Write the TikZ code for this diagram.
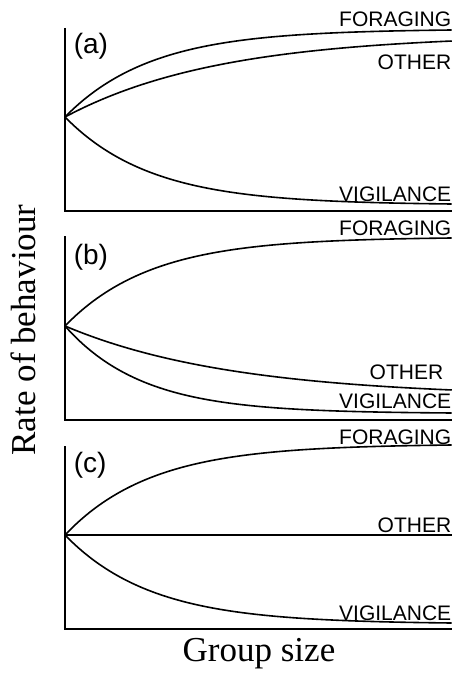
\documentclass[tikz,border=0pt]{standalone}
\usepackage{fontspec}
\setmainfont{Liberation Serif}
\newfontfamily\labelfont{Liberation Sans}

\tikzset{every picture/.style={line width=1.6pt}}
\tikzset{
  curvelabel/.style={anchor=base east, inner sep=0pt, font=\labelfont\fontsize{21}{21}\selectfont},
  panellabel/.style={anchor=base west, inner sep=0pt, font=\labelfont\fontsize{28}{28}\selectfont},
  axistitle/.style={inner sep=0pt, font=\fontsize{35}{35}\selectfont}
}
% saturating curve: start, change, rate
\newcommand{\satcurve}[4]{\draw [domain=0:1, samples=80, variable=\t, smooth] plot ({65+387*\t}, {#1+#2*(1-exp(-#3*\t))/(1-exp(-#3))}) #4;}

\begin{document}
\begin{tikzpicture}[x=1pt,y=1pt,yscale=-1,xscale=1]
\useasboundingbox (0,0) rectangle (457,677);

%Axes (a)
\coordinate (atop) at (65,28);
\coordinate (aorig) at (65,211);
\coordinate (aend) at (452,211);
\draw (atop) -- (aorig) -- (aend);
%Curves (a)
\satcurve{117}{-87}{4.5}{}
\satcurve{117}{-76}{2.5}{}
\satcurve{117}{87}{4.5}{}

%Axes (b)
\coordinate (btop) at (65,236);
\coordinate (borig) at (65,420);
\coordinate (bend) at (452,420);
\draw (btop) -- (borig) -- (bend);
%Curves (b)
\satcurve{326}{-88}{4.5}{}
\satcurve{326}{64}{2.3}{}
\satcurve{326}{87}{5}{}

%Axes (c)
\coordinate (ctop) at (65,446);
\coordinate (corig) at (65,629);
\coordinate (cend) at (452,629);
\draw (ctop) -- (corig) -- (cend);
%Curves (c)
\satcurve{535}{-90}{4.5}{}
\draw (65,535) -- (452,535);
\satcurve{535}{88}{4.5}{}

% Text Node
\node [panellabel] (pa) at (73,54) {(a)};
\node [curvelabel] (fora) at (452,27) {FORAGING};
\node [curvelabel] (otha) at (452,70) {OTHER};
\node [curvelabel] (viga) at (452,201) {VIGILANCE};
% Text Node
\node [panellabel] (pb) at (73,264) {(b)};
\node [curvelabel] (forb) at (452,235) {FORAGING};
\node [curvelabel] (othb) at (444,379) {OTHER};
\node [curvelabel] (vigb) at (452,408) {VIGILANCE};
% Text Node
\node [panellabel] (pc) at (73,472) {(c)};
\node [curvelabel] (forc) at (452,444) {FORAGING};
\node [curvelabel] (othc) at (452,532) {OTHER};
\node [curvelabel] (vigc) at (452,620) {VIGILANCE};
% Text Node
\node [axistitle, anchor=base] (xtitle) at (259,661) {Group size};
\node [axistitle, anchor=base, rotate=90] (ytitle) at (35,330) {Rate of behaviour};
\end{tikzpicture}
\end{document}
